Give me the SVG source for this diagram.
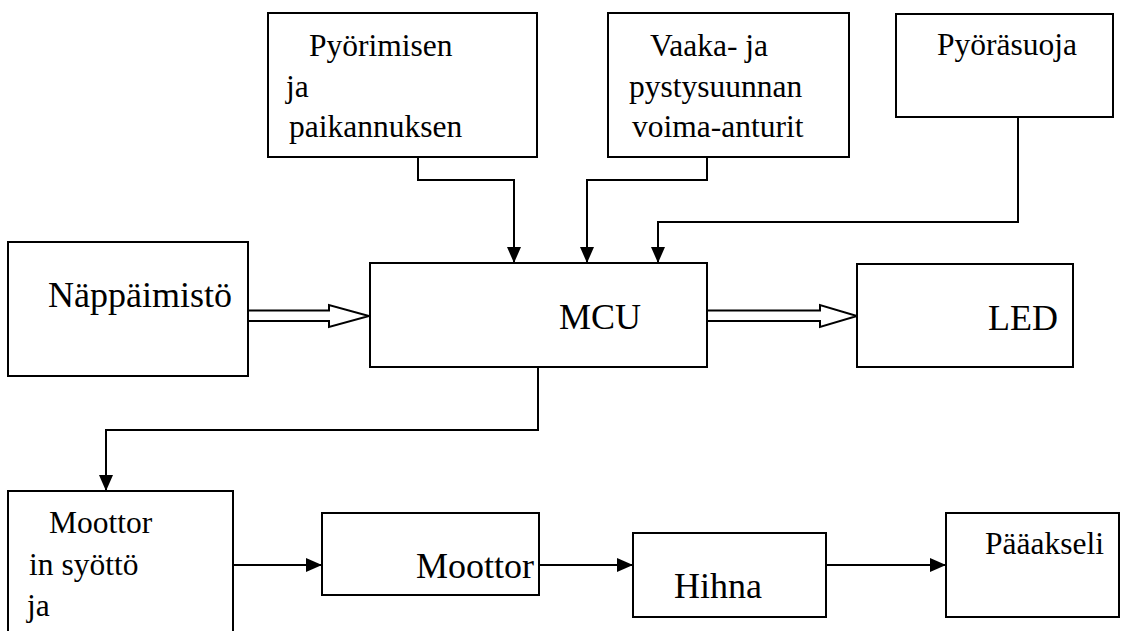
<svg xmlns="http://www.w3.org/2000/svg" width="1125" height="631" viewBox="0 0 1125 631">
<style>
.box{fill:#fff;stroke:#000;stroke-width:2}
text{font-family:'Liberation Serif','Times New Roman',Tinos,'DejaVu Serif',serif;fill:#000}
.s{font-size:31.5px}
.l{font-size:36px}
.c{fill:none;stroke:#000;stroke-width:2}
.h{fill:#fff;stroke:#000;stroke-width:2;stroke-linejoin:miter}
</style>
<defs>
<marker id="ah" markerUnits="userSpaceOnUse" markerWidth="16" markerHeight="14" refX="16" refY="7" orient="auto">
<path d="M0,0 L16,7 L0,14 z" fill="#000"/>
</marker>
</defs>
<rect width="1125" height="631" fill="#fff"/>
<g id="connectors">
<polyline class="c" points="418,157 418,180 514,180 514,263" marker-end="url(#ah)"/>
<polyline class="c" points="707,157 707,180 587,180 587,263" marker-end="url(#ah)"/>
<polyline class="c" points="1018,117 1018,222 658,222 658,263" marker-end="url(#ah)"/>
<polyline class="c" points="538,367 538,430 106,430 106,491" marker-end="url(#ah)"/>
<line class="c" x1="233" y1="565" x2="322" y2="565" marker-end="url(#ah)"/>
<line class="c" x1="539" y1="565" x2="633" y2="565" marker-end="url(#ah)"/>
<line class="c" x1="826" y1="565" x2="946" y2="565" marker-end="url(#ah)"/>
<polygon class="h" points="248,310.5 329,310.5 329,305 369,316 329,327 329,321 248,321"/>
<polygon class="h" points="707,310.5 820,310.5 820,305 857,316 820,327 820,321 707,321"/>
</g>
<g id="node-pyorimisen">
<rect class="box" x="268" y="13" width="269" height="144"/>
<text class="s" x="309" y="56" font-family="Liberation Serif">Pyörimisen</text>
<text class="s" x="286" y="97">ja</text>
<text class="s" x="289" y="137">paikannuksen</text>
</g>
<g id="node-vaaka">
<rect class="box" x="608" y="13" width="241" height="144"/>
<text class="s" x="650" y="56">Vaaka- ja</text>
<text class="s" x="629" y="97">pystysuunnan</text>
<text class="s" x="632" y="137">voima-anturit</text>
</g>
<g id="node-pyorasuoja">
<rect class="box" x="896" y="14" width="217" height="103"/>
<text class="s" x="937" y="55">Pyöräsuoja</text>
</g>
<g id="node-nappaimisto">
<rect class="box" x="8" y="242" width="240" height="134"/>
<text class="l" x="48" y="307">Näppäimistö</text>
</g>
<g id="node-mcu">
<rect class="box" x="370" y="263" width="337" height="104"/>
<text class="l" x="559" y="329">MCU</text>
</g>
<g id="node-led">
<rect class="box" x="857" y="264" width="216" height="103"/>
<text class="l" x="988" y="330">LED</text>
</g>
<g id="node-moottorin-syotto">
<rect class="box" x="8" y="491" width="225" height="160"/>
<text class="s" x="49" y="533">Moottor</text>
<text class="s" x="29" y="575">in syöttö</text>
<text class="s" x="27" y="616">ja</text>
</g>
<g id="node-moottori">
<rect class="box" x="322" y="513" width="217" height="82"/>
<text class="l" x="416" y="578">Moottor</text>
</g>
<g id="node-hihna">
<rect class="box" x="633" y="533" width="193" height="84"/>
<text class="l" x="674" y="598">Hihna</text>
</g>
<g id="node-paaakseli">
<rect class="box" x="946" y="513" width="173" height="104"/>
<text class="s" x="985" y="554">Pääakseli</text>
</g>
</svg>
